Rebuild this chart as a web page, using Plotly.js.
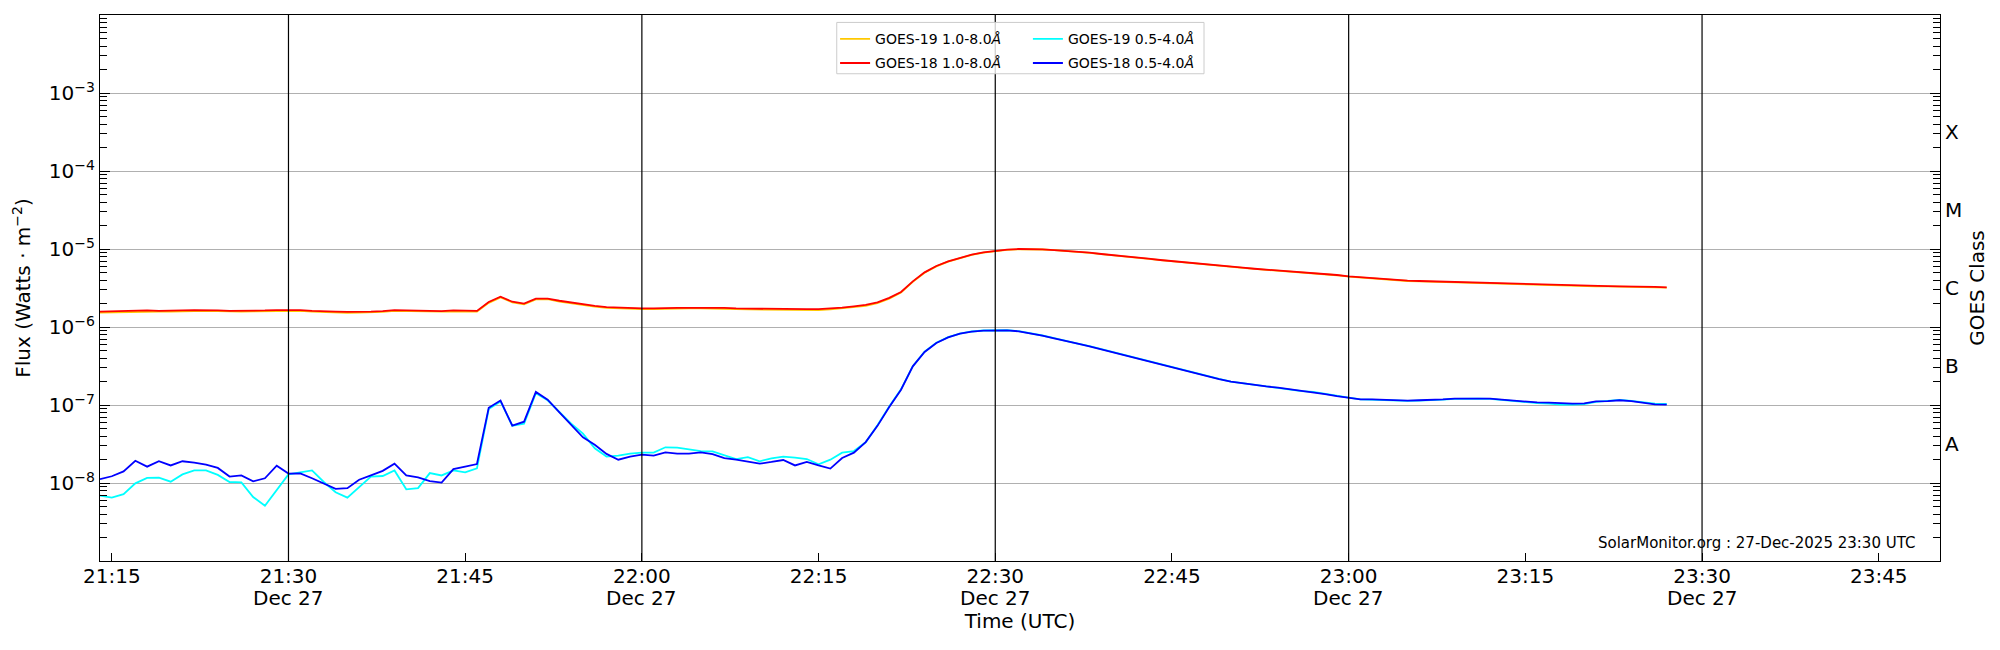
<!DOCTYPE html>
<html>
<head>
<meta charset="utf-8">
<script src="https://cdn.plot.ly/plotly-3.0.1.min.js"></script>
<style>
  html, body { margin: 0; padding: 0; background: #fff; }
  #chart { width: 2000px; height: 650px; }
</style>
</head>
<body>
<div id="chart"></div>
<script>
const DAY = '2025-12-27';

// one-minute samples, 21:14 .. 23:27 UTC
const TIMES = [
  '21:14', '21:15', '21:16', '21:17', '21:18', '21:19', '21:20', '21:21', '21:22', '21:23',
  '21:24', '21:25', '21:26', '21:27', '21:28', '21:29', '21:30', '21:31', '21:32', '21:33',
  '21:34', '21:35', '21:36', '21:37', '21:38', '21:39', '21:40', '21:41', '21:42', '21:43',
  '21:44', '21:45', '21:46', '21:47', '21:48', '21:49', '21:50', '21:51', '21:52', '21:53',
  '21:54', '21:55', '21:56', '21:57', '21:58', '21:59', '22:00', '22:01', '22:02', '22:03',
  '22:04', '22:05', '22:06', '22:07', '22:08', '22:09', '22:10', '22:11', '22:12', '22:13',
  '22:14', '22:15', '22:16', '22:17', '22:18', '22:19', '22:20', '22:21', '22:22', '22:23',
  '22:24', '22:25', '22:26', '22:27', '22:28', '22:29', '22:30', '22:31', '22:32', '22:33',
  '22:34', '22:35', '22:36', '22:37', '22:38', '22:39', '22:40', '22:41', '22:42', '22:43',
  '22:44', '22:45', '22:46', '22:47', '22:48', '22:49', '22:50', '22:51', '22:52', '22:53',
  '22:54', '22:55', '22:56', '22:57', '22:58', '22:59', '23:00', '23:01', '23:02', '23:03',
  '23:04', '23:05', '23:06', '23:07', '23:08', '23:09', '23:10', '23:11', '23:12', '23:13',
  '23:14', '23:15', '23:16', '23:17', '23:18', '23:19', '23:20', '23:21', '23:22', '23:23',
  '23:24', '23:25', '23:26', '23:27',
];

// GOES-19 1.0-8.0 A (W m^-2)
const GOES19_LONG = [
  1.53e-6, 1.54e-6, 1.56e-6, 1.59e-6, 1.59e-6, 1.58e-6, 1.57e-6, 1.59e-6, 1.61e-6, 1.61e-6,
  1.60e-6, 1.58e-6, 1.57e-6, 1.59e-6, 1.60e-6, 1.61e-6, 1.62e-6, 1.61e-6, 1.58e-6, 1.55e-6,
  1.53e-6, 1.52e-6, 1.53e-6, 1.54e-6, 1.56e-6, 1.61e-6, 1.60e-6, 1.58e-6, 1.57e-6, 1.57e-6,
  1.59e-6, 1.60e-6, 1.58e-6, 2.04e-6, 2.40e-6, 2.07e-6, 1.95e-6, 2.26e-6, 2.27e-6, 2.12e-6,
  2.01e-6, 1.91e-6, 1.82e-6, 1.76e-6, 1.73e-6, 1.72e-6, 1.70e-6, 1.70e-6, 1.72e-6, 1.72e-6,
  1.73e-6, 1.73e-6, 1.73e-6, 1.72e-6, 1.70e-6, 1.68e-6, 1.67e-6, 1.66e-6, 1.66e-6, 1.65e-6,
  1.66e-6, 1.65e-6, 1.68e-6, 1.73e-6, 1.80e-6, 1.87e-6, 2.02e-6, 2.31e-6, 2.76e-6, 3.79e-6,
  4.95e-6, 5.98e-6, 6.88e-6, 7.66e-6, 8.39e-6, 8.99e-6, 9.46e-6, 9.75e-6, 9.93e-6, 9.95e-6,
  9.85e-6, 9.65e-6, 9.46e-6, 9.19e-6, 8.92e-6, 8.58e-6, 8.33e-6, 8.00e-6, 7.70e-6, 7.47e-6,
  7.19e-6, 6.98e-6, 6.77e-6, 6.51e-6, 6.32e-6, 6.08e-6, 5.90e-6, 5.73e-6, 5.55e-6, 5.40e-6,
  5.29e-6, 5.18e-6, 5.04e-6, 4.93e-6, 4.79e-6, 4.61e-6, 4.43e-6, 4.30e-6, 4.18e-6, 4.05e-6,
  3.94e-6, 3.89e-6, 3.85e-6, 3.81e-6, 3.77e-6, 3.74e-6, 3.70e-6, 3.66e-6, 3.62e-6, 3.59e-6,
  3.55e-6, 3.52e-6, 3.45e-6, 3.41e-6, 3.38e-6, 3.35e-6, 3.31e-6, 3.31e-6, 3.31e-6, 3.29e-6,
  3.28e-6, 3.25e-6, 3.22e-6, 3.19e-6,
];

// GOES-18 1.0-8.0 A
const GOES18_LONG = [
  1.57e-6, 1.58e-6, 1.60e-6, 1.63e-6, 1.63e-6, 1.61e-6, 1.61e-6, 1.63e-6, 1.65e-6, 1.65e-6,
  1.63e-6, 1.61e-6, 1.61e-6, 1.63e-6, 1.63e-6, 1.65e-6, 1.65e-6, 1.65e-6, 1.61e-6, 1.58e-6,
  1.57e-6, 1.56e-6, 1.56e-6, 1.57e-6, 1.60e-6, 1.65e-6, 1.63e-6, 1.61e-6, 1.61e-6, 1.60e-6,
  1.63e-6, 1.63e-6, 1.61e-6, 2.09e-6, 2.45e-6, 2.11e-6, 1.99e-6, 2.31e-6, 2.31e-6, 2.17e-6,
  2.05e-6, 1.95e-6, 1.86e-6, 1.80e-6, 1.77e-6, 1.76e-6, 1.73e-6, 1.73e-6, 1.76e-6, 1.76e-6,
  1.76e-6, 1.77e-6, 1.77e-6, 1.76e-6, 1.73e-6, 1.72e-6, 1.70e-6, 1.70e-6, 1.70e-6, 1.69e-6,
  1.69e-6, 1.69e-6, 1.72e-6, 1.77e-6, 1.84e-6, 1.92e-6, 2.07e-6, 2.36e-6, 2.81e-6, 3.85e-6,
  5.02e-6, 6.05e-6, 6.95e-6, 7.74e-6, 8.46e-6, 9.06e-6, 9.52e-6, 9.80e-6, 1.00e-5, 1.00e-5,
  9.90e-6, 9.70e-6, 9.52e-6, 9.24e-6, 8.97e-6, 8.63e-6, 8.38e-6, 8.05e-6, 7.74e-6, 7.52e-6,
  7.23e-6, 7.02e-6, 6.81e-6, 6.55e-6, 6.36e-6, 6.11e-6, 5.94e-6, 5.76e-6, 5.58e-6, 5.43e-6,
  5.33e-6, 5.22e-6, 5.07e-6, 4.97e-6, 4.83e-6, 4.64e-6, 4.46e-6, 4.33e-6, 4.21e-6, 4.08e-6,
  3.97e-6, 3.93e-6, 3.89e-6, 3.85e-6, 3.81e-6, 3.78e-6, 3.74e-6, 3.70e-6, 3.66e-6, 3.63e-6,
  3.59e-6, 3.56e-6, 3.49e-6, 3.45e-6, 3.42e-6, 3.39e-6, 3.35e-6, 3.35e-6, 3.35e-6, 3.32e-6,
  3.32e-6, 3.29e-6, 3.26e-6, 3.23e-6,
];

// GOES-19 0.5-4.0 A
const GOES19_SHORT = [
  6.9e-9, 6.5e-9, 7.2e-9, 9.9e-9, 1.16e-8, 1.17e-8, 1.04e-8, 1.29e-8, 1.45e-8, 1.45e-8,
  1.27e-8, 1.03e-8, 1.02e-8, 6.6e-9, 5.1e-9, 8.2e-9, 1.29e-8, 1.37e-8, 1.45e-8, 1.03e-8,
  7.6e-9, 6.5e-9, 9.0e-9, 1.21e-8, 1.23e-8, 1.45e-8, 8.3e-9, 8.6e-9, 1.34e-8, 1.25e-8,
  1.45e-8, 1.37e-8, 1.54e-8, 8.9e-8, 1.11e-7, 5.43e-8, 5.76e-8, 1.42e-7, 1.15e-7, 8.05e-8,
  5.76e-8, 4.29e-8, 2.78e-8, 2.18e-8, 2.24e-8, 2.38e-8, 2.45e-8, 2.45e-8, 2.87e-8, 2.84e-8,
  2.68e-8, 2.57e-8, 2.55e-8, 2.29e-8, 2.03e-8, 2.15e-8, 1.90e-8, 2.07e-8, 2.18e-8, 2.12e-8,
  2.03e-8, 1.74e-8, 1.99e-8, 2.45e-8, 2.57e-8, 3.33e-8, 5.5e-8, 9.6e-8, 1.59e-7, 3.15e-7,
  4.82e-7, 6.28e-7, 7.42e-7, 8.25e-7, 8.76e-7, 9.02e-7, 9.10e-7, 9.09e-7, 8.84e-7, 8.33e-7,
  7.78e-7, 7.19e-7, 6.71e-7, 6.14e-7, 5.68e-7, 5.20e-7, 4.76e-7, 4.35e-7, 3.95e-7, 3.61e-7,
  3.31e-7, 3.05e-7, 2.79e-7, 2.58e-7, 2.34e-7, 2.16e-7, 2.00e-7, 1.91e-7, 1.80e-7, 1.74e-7,
  1.67e-7, 1.59e-7, 1.51e-7, 1.47e-7, 1.38e-7, 1.30e-7, 1.24e-7, 1.18e-7, 1.17e-7, 1.15e-7,
  1.13e-7, 1.13e-7, 1.14e-7, 1.15e-7, 1.17e-7, 1.20e-7, 1.21e-7, 1.21e-7, 1.20e-7, 1.16e-7,
  1.13e-7, 1.09e-7, 1.06e-7, 1.04e-7, 1.01e-7, 1.01e-7, 1.03e-7, 1.10e-7, 1.13e-7, 1.16e-7,
  1.13e-7, 1.09e-7, 1.04e-7, 1.03e-7,
];

// GOES-18 0.5-4.0 A
const GOES18_SHORT = [
  1.12e-8, 1.22e-8, 1.41e-8, 1.93e-8, 1.62e-8, 1.90e-8, 1.68e-8, 1.90e-8, 1.82e-8, 1.72e-8,
  1.56e-8, 1.21e-8, 1.25e-8, 1.05e-8, 1.15e-8, 1.67e-8, 1.32e-8, 1.33e-8, 1.15e-8, 9.8e-9,
  8.4e-9, 8.6e-9, 1.10e-8, 1.25e-8, 1.43e-8, 1.77e-8, 1.25e-8, 1.18e-8, 1.06e-8, 1.01e-8,
  1.51e-8, 1.62e-8, 1.75e-8, 9.2e-8, 1.14e-7, 5.43e-8, 6.11e-8, 1.47e-7, 1.17e-7, 8.05e-8,
  5.6e-8, 3.85e-8, 3.1e-8, 2.36e-8, 1.99e-8, 2.18e-8, 2.31e-8, 2.24e-8, 2.47e-8, 2.38e-8,
  2.38e-8, 2.47e-8, 2.35e-8, 2.09e-8, 1.99e-8, 1.86e-8, 1.77e-8, 1.86e-8, 1.97e-8, 1.68e-8,
  1.86e-8, 1.68e-8, 1.53e-8, 2.09e-8, 2.45e-8, 3.35e-8, 5.4e-8, 9.4e-8, 1.57e-7, 3.13e-7,
  4.78e-7, 6.24e-7, 7.37e-7, 8.21e-7, 8.71e-7, 8.97e-7, 9.06e-7, 9.06e-7, 8.80e-7, 8.30e-7,
  7.74e-7, 7.16e-7, 6.68e-7, 6.11e-7, 5.65e-7, 5.17e-7, 4.73e-7, 4.33e-7, 3.93e-7, 3.59e-7,
  3.29e-7, 3.04e-7, 2.78e-7, 2.57e-7, 2.33e-7, 2.15e-7, 1.99e-7, 1.90e-7, 1.79e-7, 1.73e-7,
  1.67e-7, 1.59e-7, 1.51e-7, 1.47e-7, 1.38e-7, 1.30e-7, 1.24e-7, 1.18e-7, 1.18e-7, 1.16e-7,
  1.14e-7, 1.14e-7, 1.15e-7, 1.16e-7, 1.18e-7, 1.21e-7, 1.21e-7, 1.21e-7, 1.21e-7, 1.17e-7,
  1.14e-7, 1.10e-7, 1.08e-7, 1.07e-7, 1.05e-7, 1.04e-7, 1.05e-7, 1.11e-7, 1.12e-7, 1.15e-7,
  1.12e-7, 1.08e-7, 1.02e-7, 1.01e-7,
];

const X_RANGE = ['21:14:00', '23:50:12'];
const X_TICKS = ['21:15', '21:30', '21:45', '22:00', '22:15', '22:30', '22:45', '23:00', '23:15', '23:30', '23:45'];
// every half hour gets the date written under it, and a black marker line
const HALF_HOURS = ['21:30', '22:00', '22:30', '23:00', '23:30'];
const DATE_LABEL = 'Dec 27';

const Y_TICKS = [1e-8, 1e-7, 1e-6, 1e-5, 1e-4, 1e-3];
const Y_TICK_TEXT = ['10<sup>−8</sup>', '10<sup>−7</sup>', '10<sup>−6</sup>', '10<sup>−5</sup>', '10<sup>−4</sup>', '10<sup>−3</sup>'];
const CLASS_TICKS = [3.16e-8, 3.16e-7, 3.16e-6, 3.16e-5, 3.16e-4];
const CLASS_TEXT = ['A', 'B', 'C', 'M', 'X'];

const STAMP = 'SolarMonitor.org : 27-Dec-2025 23:30 UTC';

const FONT = 'DejaVu Sans, sans-serif';
const at = t => `${DAY} ${t}`;

// log minor ticks 2..9 in every decade of the range
const minorTicks = [];
for (let e = -9; e <= -3; e++) {
  for (let m = 2; m <= 9; m++) minorTicks.push(m * Math.pow(10, e));
}

const series = [
  { name: 'GOES-19 1.0-8.0<i>Å</i>', y: GOES19_LONG, color: '#ffc800', legend: 'legend' },
  { name: 'GOES-19 0.5-4.0<i>Å</i>', y: GOES19_SHORT, color: '#00ffff', legend: 'legend2' },
  { name: 'GOES-18 1.0-8.0<i>Å</i>', y: GOES18_LONG, color: '#ff0000', legend: 'legend' },
  { name: 'GOES-18 0.5-4.0<i>Å</i>', y: GOES18_SHORT, color: '#0000ff', legend: 'legend2' },
];

const traces = series.map((s, i) => ({
  x: TIMES.map(at),
  y: s.y,
  name: s.name,
  type: 'scatter',
  mode: 'lines',
  line: { color: s.color, width: 1.8 },
  legend: s.legend,
  legendgroup: 'g' + i,
}));

// empty trace so the right-hand GOES class axis gets drawn
traces.push({ x: [], y: [], yaxis: 'y2', type: 'scatter', mode: 'lines', showlegend: false, hoverinfo: 'skip' });

const legendBase = {
  yanchor: 'top', xanchor: 'left', y: 0.985,
  bgcolor: 'rgba(0,0,0,0)', borderwidth: 0,
  font: { family: FONT, size: 14, color: '#000' },
  tracegroupgap: 3,
};

const shapes = HALF_HOURS.map(t => ({
  type: 'line', xref: 'x', yref: 'paper',
  x0: at(t), x1: at(t), y0: 0, y1: 1,
  line: { color: '#000', width: 1.2 },
  layer: 'above',
}));

// legend frame shared by the two legend columns
shapes.push({
  type: 'rect', xref: 'paper', yref: 'paper',
  x0: 0.4004, x1: 0.6, y0: 0.8924, y1: 0.9864,
  fillcolor: 'rgba(255,255,255,0.8)',
  line: { color: '#cccccc', width: 1 },
  layer: 'above',
});

const annotations = HALF_HOURS.map(t => ({
  text: DATE_LABEL,
  xref: 'x', yref: 'paper',
  x: at(t), y: -0.068,
  xanchor: 'center', yanchor: 'middle',
  showarrow: false,
  font: { family: FONT, size: 20, color: '#000' },
}));

annotations.push({
  text: STAMP,
  xref: 'paper', yref: 'paper',
  x: 0.9873, y: 0.033,
  xanchor: 'right', yanchor: 'middle',
  showarrow: false,
  font: { family: FONT, size: 15, color: '#000' },
});

const layout = {
  width: 2000,
  height: 650,
  margin: { l: 100, r: 60, t: 15, b: 89 },
  paper_bgcolor: '#fff',
  plot_bgcolor: '#fff',
  font: { family: FONT, size: 20, color: '#000' },
  xaxis: {
    type: 'date',
    range: X_RANGE.map(at),
    tickmode: 'array',
    tickvals: X_TICKS.map(at),
    ticktext: X_TICKS,
    ticks: 'inside', ticklen: 8, tickwidth: 1.2, tickcolor: '#000',
    ticklabelstandoff: -3,
    showgrid: false, zeroline: false,
    showline: true, linecolor: '#000', linewidth: 1.3, mirror: true,
    tickfont: { family: FONT, size: 20 },
    title: { text: 'Time (UTC)', font: { family: FONT, size: 20 }, standoff: 26 },
    automargin: false,
  },
  yaxis: {
    type: 'log',
    range: [-9, -2],
    tickmode: 'array',
    tickvals: Y_TICKS,
    ticktext: Y_TICK_TEXT,
    ticks: 'inside', ticklen: 10, tickwidth: 1.2, tickcolor: '#000',
    minor: { tickmode: 'array', tickvals: minorTicks, ticks: 'inside', ticklen: 7, tickwidth: 1, tickcolor: '#000', showgrid: false },
    showgrid: true, gridcolor: '#b0b0b0', gridwidth: 1.2,
    zeroline: false,
    showline: true, linecolor: '#000', linewidth: 1.3, mirror: 'allticks',
    tickfont: { family: FONT, size: 20 },
    title: { text: 'Flux (Watts · m<sup>−2</sup>)', font: { family: FONT, size: 20 }, standoff: 12 },
    automargin: false,
  },
  yaxis2: {
    type: 'log',
    range: [-9, -2],
    overlaying: 'y',
    side: 'right',
    tickmode: 'array',
    tickvals: CLASS_TICKS,
    ticktext: CLASS_TEXT,
    ticks: '',
    ticklabelstandoff: 4,
    showgrid: false, zeroline: false, showline: false,
    tickfont: { family: FONT, size: 20 },
    title: { text: 'GOES Class', font: { family: FONT, size: 20 }, standoff: 8 },
    automargin: false,
  },
  legend: Object.assign({ x: 0.3995 }, legendBase),
  legend2: Object.assign({ x: 0.5043 }, legendBase),
  shapes,
  annotations,
  showlegend: true,
};

Plotly.newPlot('chart', traces, layout, { displayModeBar: false, responsive: false });
</script>
</body>
</html>
